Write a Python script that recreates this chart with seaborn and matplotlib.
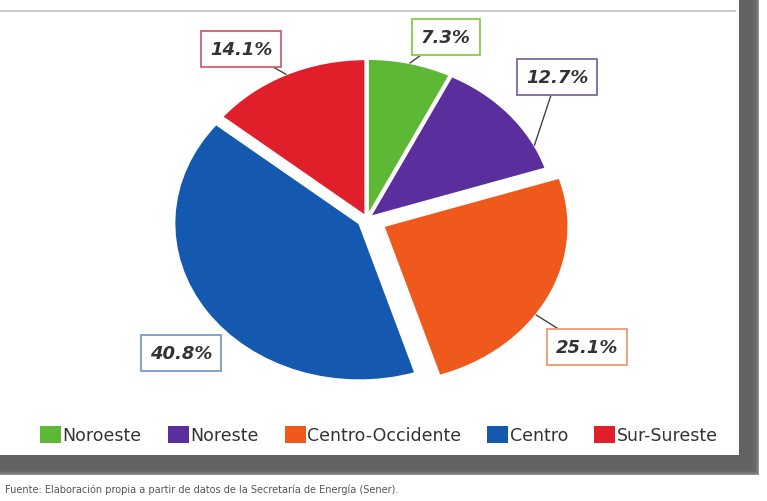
import matplotlib
matplotlib.use("Agg")
import matplotlib.pyplot as plt
import seaborn as sns
import numpy as np
from matplotlib.patches import Patch, Rectangle

sns.set_theme(style="white")
plt.rcParams['font.family'] = ['DejaVu Sans']

regions = ["Noroeste", "Noreste", "Centro-Occidente", "Centro", "Sur-Sureste"]
shares = [7.3, 12.7, 25.1, 40.8, 14.1]
labels = ["7.3%", "12.7%", "25.1%", "40.8%", "14.1%"]
colors = ["#5db835", "#5a2e9c", "#f0591c", "#1558b0", "#e01f2b"]
label_edges = ["#8cc84a", "#7a6a9a", "#f09a70", "#7a9ac8", "#d06070"]

W, H = 767, 502
fig = plt.figure(figsize=(W / 100, H / 100), dpi=100)
fig.patch.set_facecolor("white")

def px(x0, y0, x1, y1):
    # pixel box (top-based) -> figure fraction rect
    return (x0 / W, 1 - y1 / H, (x1 - x0) / W, (y1 - y0) / H)

# soft shadow behind panel
for i, a in enumerate([0.12, 0.2, 0.3, 0.45, 0.6]):
    g = 5 - i
    x0, y0, w0, h0 = px(-10, -10, 761 - g * 1.6, 478 - g * 1.6)
    fig.patches.append(Rectangle((x0, y0), w0, h0, transform=fig.transFigure,
                                 facecolor="#505050", alpha=a, edgecolor="none", zorder=0))
x0, y0, w0, h0 = px(-10, -10, 739, 456)
fig.patches.append(Rectangle((x0, y0), w0, h0, transform=fig.transFigure,
                             facecolor="white", edgecolor="none", zorder=1))
fig.lines.append(plt.Line2D([0, 735 / W], [1 - 12 / H, 1 - 12 / H], transform=fig.transFigure,
                            color="#cccccc", lw=1.5, zorder=2))

# pie axes (elliptical)
rx, ry = 185, 157
cx, cy = 367, 220
lim = 1.3
ax = fig.add_axes(((cx - lim * rx) / W, 1 - (cy + lim * ry) / H, 2 * lim * rx / W, 2 * lim * ry / H))
ax.set_zorder(3)
explode = [0.02, 0.02, 0.1, 0.05, 0.02]
wedges, _ = ax.pie(shares, colors=colors, startangle=90, counterclock=False,
                   explode=explode, wedgeprops=dict(edgecolor="white", linewidth=1.5))
ax.set_aspect("auto")
ax.set_xlim(-lim, lim)
ax.set_ylim(-lim, lim)
ax.axis("off")
ax.patch.set_alpha(0)

# label boxes (pixel centers) and anchor fraction along each wedge
box_pos = [(446, 38), (557, 78), (587, 348), (181, 354), (241, 50)]
anchor_frac = [0.5, 0.8, 0.58, None, 0.5]
for w, lab, ec, (bx, by), af in zip(wedges, labels, label_edges, box_pos, anchor_frac):
    bbox = dict(boxstyle="square,pad=0.5", fc="white", ec=ec, lw=1.3)
    kw = dict(ha="center", va="center", fontsize=13, fontweight="bold", fontstyle="italic",
              color="#333333", bbox=bbox, zorder=5)
    if af is None:
        fig.text(bx / W, 1 - by / H, lab, **kw)
        continue
    t1, t2 = w.theta1, w.theta2
    ang = np.deg2rad(t1 + (t2 - t1) * (1 - af))
    cxw, cyw = w.center
    xy = (cxw + w.r * np.cos(ang), cyw + w.r * np.sin(ang))
    ax.annotate(lab, xy=xy, xytext=(bx / W, 1 - by / H), textcoords="figure fraction",
                annotation_clip=False,
                arrowprops=dict(arrowstyle="-", color="#444444", lw=1, shrinkA=0, shrinkB=0), **kw)

handles = [Patch(facecolor=c, edgecolor="none") for c in colors]
leg = fig.legend(handles, regions, loc="center", bbox_to_anchor=(379 / W, 1 - 436 / H),
                 ncol=5, frameon=False, fontsize=12.5, handlelength=1.2, handleheight=1.1,
                 handletextpad=0.1, columnspacing=1.5, labelcolor="#333333")
leg.set_zorder(6)

fig.text(5 / W, 1 - 490 / H,
         "Fuente: Elaboración propia a partir de datos de la Secretaría de Energía (Sener).",
         ha="left", va="center", fontsize=7, color="#555555", zorder=6)

fig.savefig("out.png", dpi=100, facecolor="white")
